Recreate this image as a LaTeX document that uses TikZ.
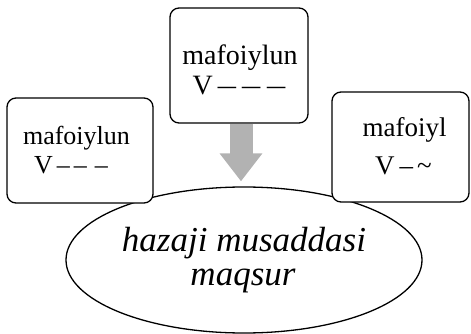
\documentclass[tikz,border=0pt]{standalone}
\usepackage{fontspec}
\setmainfont{Liberation Serif}
\usetikzlibrary{shapes.geometric,arrows.meta}
\tikzset{
  footbox/.style={draw, line width=1.3pt, rounded corners=9pt, fill=white,
    inner sep=0pt},
  metre/.style={ellipse, draw, line width=1.3pt, inner sep=0pt},
  lbl/.style={anchor=base, inner sep=0pt},
  flow/.style={line width=23pt, draw=gray!60,
    -{Triangle[length=28pt, width=41pt]}}
}
\newcommand{\wdash}{\scalebox{1.3}[1]{–}}
\begin{document}
\begin{tikzpicture}[x=1pt, y=-1pt]
  \useasboundingbox (0,0) rectangle (471,334);

  % metre name
  \node[metre, minimum width=356pt, minimum height=146pt] (ell) at (244,260) {};
  \node[lbl, font=\fontsize{35}{38}\selectfont\itshape] (t1) at (244,251) {hazaji musaddasi};
  \node[lbl, font=\fontsize{35}{38}\selectfont\itshape] (t2) at (243,285) {maqsur};

  % feet
  \node[footbox, minimum width=138pt, minimum height=115pt] (top) at (239,65.5) {};
  \node[footbox, minimum width=146pt, minimum height=105pt] (left) at (80,150.5) {};
  \node[footbox, minimum width=137pt, minimum height=110pt] (right) at (400.5,147) {};

  \node[lbl, font=\fontsize{28}{30}\selectfont] (a1) at (240,65) {mafoiylun};
  \node[lbl, font=\fontsize{28}{30}\selectfont] (a2) at (239,95)
    {V\hspace{5pt}\wdash\hspace{6pt}\wdash\hspace{7pt}\wdash};

  \node[lbl, font=\fontsize{26}{28}\selectfont] (b1) at (76.5,144) {mafoiylun};
  \node[lbl, font=\fontsize{26}{28}\selectfont] (b2) at (71,173)
    {V\hspace{4pt}–\hspace{4pt}–\hspace{8pt}–};

  \node[lbl, font=\fontsize{27}{29}\selectfont] (c1) at (404.5,137) {mafoiyl};
  \node[lbl, font=\fontsize{27}{29}\selectfont] (c2) at (403.5,175)
    {V\hspace{5pt}–\hspace{4pt}\textasciitilde};

  % arrow from the top foot to the metre
  \coordinate (tip) at ([yshift=5pt]top.south |- ell.north);
  \draw[flow] ([xshift=2pt]top.south) -- ([xshift=2pt]tip);
\end{tikzpicture}
\end{document}
